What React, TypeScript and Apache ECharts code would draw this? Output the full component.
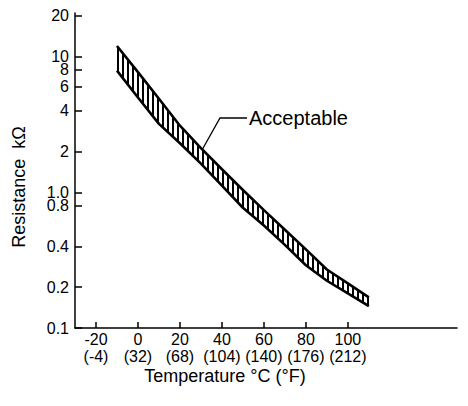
import React, { useEffect, useRef } from "react";
import * as echarts from "echarts";

// Temperature (°C) sample points along the band boundaries
const TEMPS = [-10, 0, 10, 20, 30, 40, 50, 60, 70, 80, 90, 100, 110];
// Upper boundary of the acceptable band (kΩ)
const UPPER = [12.0, 7.7, 4.9, 3.1, 2.12, 1.48, 1.04, 0.74, 0.53, 0.38, 0.27, 0.213, 0.168];
// Lower boundary of the acceptable band (kΩ)
const LOWER = [7.9, 5.0, 3.2, 2.3, 1.63, 1.12, 0.77, 0.57, 0.41, 0.29, 0.223, 0.18, 0.145];

const X_TICKS_C = [-20, 0, 20, 40, 60, 80, 100];
const X_TICKS_F = [-4, 32, 68, 104, 140, 176, 212];
const Y_TICKS = [0.1, 0.2, 0.4, 0.8, 1.0, 2, 4, 6, 8, 10, 20];
const Y_TICK_LABELS = ["0.1", "0.2", "0.4", "0.8", "1.0", "2", "4", "6", "8", "10", "20"];

const FONT = "'Liberation Sans', Arial, Helvetica, sans-serif";

export default function App() {
  const ref = useRef<HTMLDivElement>(null);

  useEffect(() => {
    document.body.style.margin = "0";
    const el = ref.current;
    if (!el) return;
    const chart = echarts.init(el, undefined, { renderer: "svg" });

    const lg = (v: number) => Math.log10(v);
    const yTickLogs = Y_TICKS.map(lg);
    const yLabel = (v: number) => {
      let best = 0;
      let bd = Infinity;
      yTickLogs.forEach((t, i) => {
        const d = Math.abs(t - v);
        if (d < bd) {
          bd = d;
          best = i;
        }
      });
      return Y_TICK_LABELS[best];
    };
    const xLabel = (v: number) => {
      const i = X_TICKS_C.findIndex((c) => Math.abs(c - v) < 1e-6);
      return i >= 0 ? `${X_TICKS_C[i]}\n(${X_TICKS_F[i]})` : "";
    };

    const upperData = TEMPS.map((t, i) => [t, lg(UPPER[i])]);
    const lowerData = TEMPS.map((t, i) => [t, lg(LOWER[i])]);

    const interp = (pts: number[][], x: number) => {
      for (let i = 0; i < pts.length - 1; i++) {
        const [x0, y0] = pts[i];
        const [x1, y1] = pts[i + 1];
        if (x >= x0 && x <= x1) {
          return y0 + ((y1 - y0) * (x - x0)) / (x1 - x0);
        }
      }
      return pts[pts.length - 1][1];
    };

    const option: any = {
      animation: false,
      grid: { left: 75, top: 13, width: 382, height: 315, outerBoundsMode: "none" },
      xAxis: {
        type: "value",
        min: -30,
        max: 152,
        splitLine: { show: false },
        axisLine: { onZero: false, lineStyle: { color: "#000", width: 1.5 } },
        axisTick: {
          inside: true,
          length: 6,
          customValues: X_TICKS_C,
          lineStyle: { color: "#000", width: 1.5 },
        },
        axisLabel: {
          customValues: X_TICKS_C,
          formatter: xLabel,
          color: "#000",
          fontSize: 16,
          lineHeight: 17,
          margin: 3,
          fontFamily: FONT,
          hideOverlap: false,
        },
      },
      yAxis: {
        type: "value",
        min: lg(0.1),
        max: lg(21),
        splitLine: { show: false },
        axisLine: { onZero: false, lineStyle: { color: "#000", width: 1.5 } },
        axisTick: {
          inside: true,
          length: 7,
          customValues: yTickLogs,
          lineStyle: { color: "#000", width: 1.5 },
        },
        axisLabel: {
          customValues: yTickLogs,
          formatter: yLabel,
          color: "#000",
          fontSize: 16,
          margin: 6,
          fontFamily: FONT,
          hideOverlap: false,
        },
      },
      series: [
        {
          type: "line",
          data: upperData,
          symbol: "none",
          silent: true,
          lineStyle: { color: "#000", width: 2.6 },
        },
        {
          type: "line",
          data: lowerData,
          symbol: "none",
          silent: true,
          lineStyle: { color: "#000", width: 2.6 },
        },
        {
          type: "custom",
          silent: true,
          clip: false,
          data: [[TEMPS[0], lg(UPPER[0])]],
          renderItem: (_params: any, api: any) => {
            const up = upperData.map((d) => api.coord(d));
            const lo = lowerData.map((d) => api.coord(d));
            const children: any[] = [];
            const xs = Math.max(up[0][0], lo[0][0]);
            const xe = Math.min(up[up.length - 1][0], lo[lo.length - 1][0]);
            for (let x = xs + 1; x <= xe; x += 5) {
              children.push({
                type: "line",
                shape: { x1: x, y1: interp(up, x), x2: x, y2: interp(lo, x) },
                style: { stroke: "#000", lineWidth: 2 },
              });
            }
            return { type: "group", children };
          },
        },
      ],
      graphic: [
        {
          type: "polyline",
          shape: { points: [[202, 150], [220, 118], [247, 118]] },
          style: { stroke: "#000", lineWidth: 1.3, fill: "none" },
        },
        {
          type: "text",
          x: 249,
          y: 118,
          style: {
            text: "Acceptable",
            fontSize: 20,
            fontFamily: FONT,
            fill: "#000",
            textAlign: "left",
            textVerticalAlign: "middle",
          },
        },
        {
          type: "text",
          x: 225,
          y: 376,
          style: {
            text: "Temperature °C (°F)",
            fontSize: 18,
            fontFamily: FONT,
            fill: "#000",
            textAlign: "center",
            textVerticalAlign: "middle",
          },
        },
        {
          type: "text",
          x: 19,
          y: 187,
          rotation: Math.PI / 2,
          style: {
            text: "Resistance  kΩ",
            fontSize: 18,
            fontFamily: FONT,
            fill: "#000",
            textAlign: "center",
            textVerticalAlign: "middle",
          },
        },
      ],
    };

    chart.setOption(option);
    return () => chart.dispose();
  }, []);

  return <div ref={ref} style={{ width: 468, height: 406 }} />;
}
